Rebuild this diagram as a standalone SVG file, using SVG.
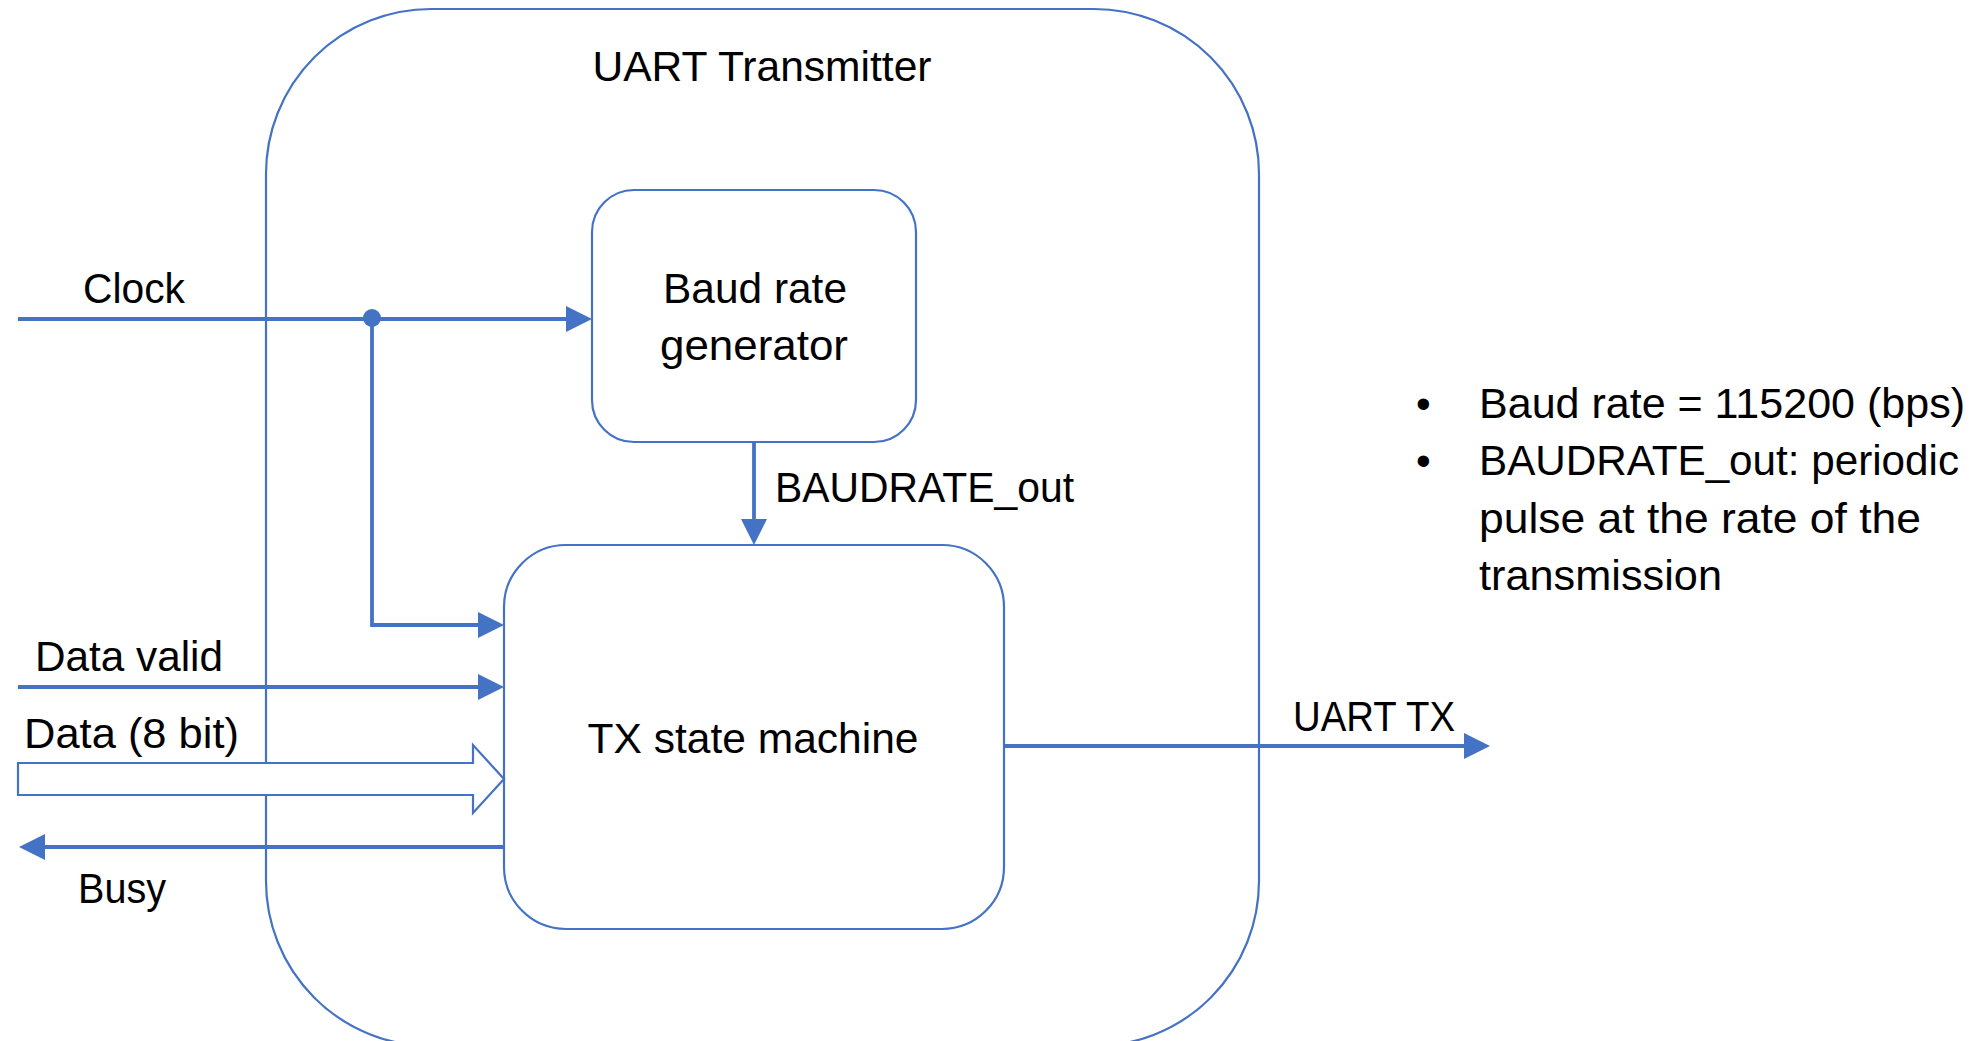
<svg xmlns="http://www.w3.org/2000/svg" width="1980" height="1041" viewBox="0 0 1980 1041">
<style>
  .box { fill: #FFFFFF; stroke: #4472C4; stroke-width: 2.2; }
  .outer { fill: none; stroke: #4472C4; stroke-width: 2.2; }
  .wire { fill: none; stroke: #4472C4; stroke-width: 3.8; }
  .bus { fill: #FFFFFF; stroke: #4472C4; stroke-width: 2.2; stroke-linejoin: miter; }
  .lbl { font-family: "Liberation Sans", Arial, sans-serif; font-size: 42px; fill: #000000; }
  .mid { text-anchor: middle; }
</style>
<defs>
  <marker id="arrow" markerUnits="userSpaceOnUse" viewBox="0 0 26 26" markerWidth="26" markerHeight="26" refX="1" refY="13" orient="auto">
    <path d="M0,0 L26,13 L0,26 Z" fill="#4472C4"/>
  </marker>
</defs>
<rect width="1980" height="1041" fill="#FFFFFF"/>

<g id="uart-transmitter">
  <rect class="outer" x="266" y="9" width="993" height="1037" rx="165" ry="165"/>
  <text class="lbl mid" x="762" y="81" textLength="339" lengthAdjust="spacingAndGlyphs">UART Transmitter</text>
</g>

<g id="baud-rate-generator">
  <rect class="box" x="592" y="190" width="324" height="252" rx="42" ry="42"/>
  <text class="lbl mid" x="755" y="303" textLength="184" lengthAdjust="spacingAndGlyphs">Baud rate</text>
  <text class="lbl mid" x="754" y="360" textLength="188" lengthAdjust="spacingAndGlyphs">generator</text>
</g>

<g id="tx-state-machine">
  <rect class="box" x="504" y="545" width="500" height="384" rx="62" ry="62"/>
  <text class="lbl mid" x="753" y="753" textLength="331" lengthAdjust="spacingAndGlyphs">TX state machine</text>
</g>

<g id="connectors">
  <path class="wire" d="M18,319 H567" marker-end="url(#arrow)"/>
  <path class="wire" d="M372,319 V625 H479" marker-end="url(#arrow)"/>
  <circle cx="372" cy="318" r="9" fill="#4472C4"/>
  <path class="wire" d="M754,442 V520" marker-end="url(#arrow)"/>
  <path class="wire" d="M18,687 H479" marker-end="url(#arrow)"/>
  <path class="bus" d="M18,763 H473 V745 L504,779 L473,813 V795 H18 Z"/>
  <path class="wire" d="M504,847 H44" marker-end="url(#arrow)"/>
  <path class="wire" d="M1004,746 H1465" marker-end="url(#arrow)"/>
</g>

<g id="labels">
  <text class="lbl" x="83" y="303" textLength="102" lengthAdjust="spacingAndGlyphs">Clock</text>
  <text class="lbl" x="775" y="502" textLength="299" lengthAdjust="spacingAndGlyphs">BAUDRATE_out</text>
  <text class="lbl" x="35" y="671" textLength="188" lengthAdjust="spacingAndGlyphs">Data valid</text>
  <text class="lbl" x="24" y="748" textLength="215" lengthAdjust="spacingAndGlyphs">Data (8 bit)</text>
  <text class="lbl" x="78" y="903" textLength="88" lengthAdjust="spacingAndGlyphs">Busy</text>
  <text class="lbl" x="1293" y="731" textLength="162" lengthAdjust="spacingAndGlyphs">UART TX</text>
</g>

<g id="notes">
  <text class="lbl" x="1416" y="418">•</text>
  <text class="lbl" x="1479" y="418" textLength="486" lengthAdjust="spacingAndGlyphs">Baud rate = 115200 (bps)</text>
  <text class="lbl" x="1416" y="475">•</text>
  <text class="lbl" x="1479" y="475" textLength="480" lengthAdjust="spacingAndGlyphs">BAUDRATE_out: periodic</text>
  <text class="lbl" x="1479" y="533" textLength="442" lengthAdjust="spacingAndGlyphs">pulse at the rate of the</text>
  <text class="lbl" x="1479" y="590" textLength="243" lengthAdjust="spacingAndGlyphs">transmission</text>
</g>
</svg>
